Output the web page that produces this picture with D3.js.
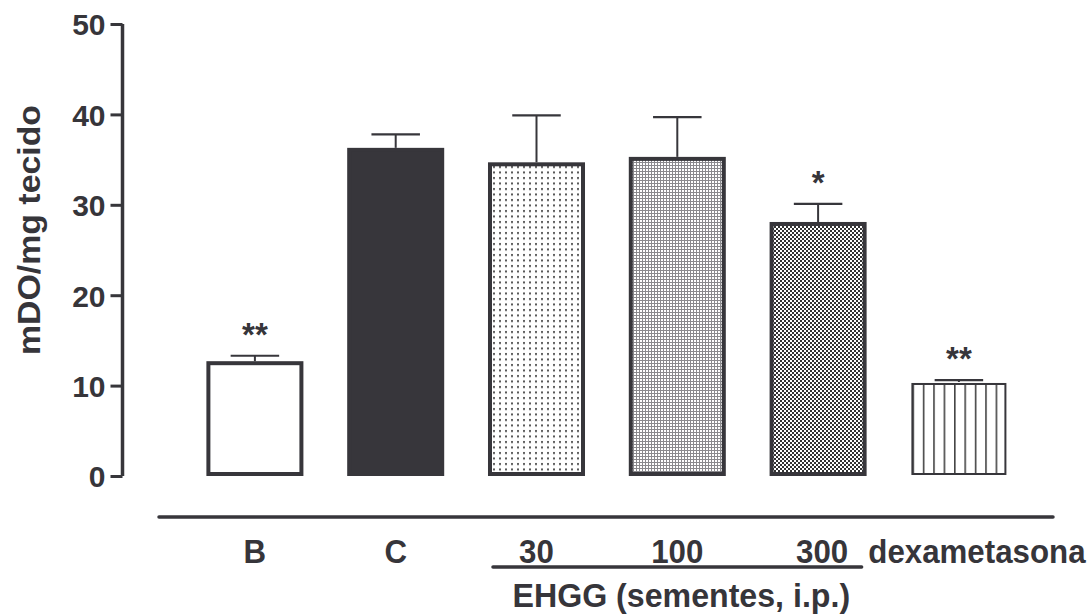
<!DOCTYPE html>
<html>
<head>
<meta charset="utf-8">
<script src="https://cdn.jsdelivr.net/npm/d3@7"></script>
<style>
  html, body { margin: 0; padding: 0; background: #fff; }
  svg { display: block; }
  text { font-family: "Liberation Sans", Arial, Helvetica, sans-serif; font-weight: bold; fill: #36353a; }
</style>
</head>
<body>
<svg id="chart" width="1090" height="616"></svg>
<script>
// ---- data ----
const categories = ["B", "C", "30", "100", "300", "dexametasona"];
const means      = [12.7, 36.3, 34.7, 35.3, 28.1, 10.4];
const errUpper   = [13.3, 37.8, 39.9, 39.7, 30.1, 10.6];
const signif     = ["**", "", "", "", "*", "**"];
const patterns   = ["none", "solid", "dots", "mesh", "checker", "vlines"];
const yTicks     = [0, 10, 20, 30, 40, 50];
const yTitle     = "mDO/mg tecido";
const groupLabel = "EHGG (sementes, i.p.)";
const groupMembers = ["30", "100", "300"];

const ink = "#37363b";
const svg = d3.select("#chart");

const y = d3.scaleLinear().domain([0, 50]).range([476, 24]);
const x = d3.scaleBand().domain(categories).range([184.5, 1029.3])
  .paddingInner(0.311).paddingOuter(0.1555);
const bw = x.bandwidth();

// ---- patterns ----
const defs = svg.append("defs");
const pDots = defs.append("pattern").attr("id", "dots").attr("patternUnits", "userSpaceOnUse")
  .attr("width", 6).attr("height", 5.5);
pDots.append("rect").attr("width", 6).attr("height", 5.5).attr("fill", "#fff");
pDots.append("rect").attr("x", 1).attr("y", 1).attr("width", 2).attr("height", 2).attr("fill", "#555");

const pMesh = defs.append("pattern").attr("id", "mesh").attr("patternUnits", "userSpaceOnUse")
  .attr("width", 3).attr("height", 3);
pMesh.append("rect").attr("width", 3).attr("height", 3).attr("fill", "#8a898d");
pMesh.append("rect").attr("x", 1).attr("y", 1).attr("width", 2).attr("height", 2).attr("fill", "#fff");

const pCheck = defs.append("pattern").attr("id", "checker").attr("patternUnits", "userSpaceOnUse")
  .attr("width", 4).attr("height", 4);
pCheck.append("rect").attr("width", 4).attr("height", 4).attr("fill", "#fff");
pCheck.append("rect").attr("x", 0).attr("y", 0).attr("width", 2).attr("height", 2).attr("fill", "#333");
pCheck.append("rect").attr("x", 2).attr("y", 2).attr("width", 2).attr("height", 2).attr("fill", "#333");

const pV = defs.append("pattern").attr("id", "vlines").attr("patternUnits", "userSpaceOnUse")
  .attr("width", 10.4).attr("height", 10).attr("x", x("dexametasona") + 2);
pV.append("rect").attr("width", 10.4).attr("height", 10).attr("fill", "#fff");
pV.append("rect").attr("x", 0).attr("y", 0).attr("width", 1.6).attr("height", 10).attr("fill", "#444");

function fillFor(p) {
  if (p === "none") return "#fff";
  if (p === "solid") return ink;
  return "url(#" + p + ")";
}

// ---- y axis ----
const yAxis = d3.axisLeft(y).tickValues(yTicks).tickSize(12).tickPadding(5);
const gy = svg.append("g").attr("transform", "translate(122.5,0)").call(yAxis);
gy.select(".domain").attr("stroke", ink).attr("stroke-width", 3.5).attr("d", "M0," + y(50) + "V" + y(0));
gy.selectAll(".tick line").attr("stroke", ink).attr("stroke-width", 3);
gy.selectAll(".tick text").attr("font-size", 30).attr("dy", "0.36em")
  .style("font-family", "'Liberation Sans', Arial, sans-serif").style("font-weight", "bold").attr("fill", ink);

svg.append("text").attr("transform", "translate(40,230) rotate(-90)")
  .attr("text-anchor", "middle").attr("font-size", 32)
  .attr("textLength", 250).attr("lengthAdjust", "spacingAndGlyphs").text(yTitle);

// ---- error bars ----
const data = categories.map((c, i) => ({ c, m: means[i], e: errUpper[i], s: signif[i], p: patterns[i] }));
const eb = svg.append("g");
data.forEach(d => {
  const cx = x(d.c) + bw / 2;
  eb.append("line").attr("x1", cx).attr("x2", cx).attr("y1", y(d.m)).attr("y2", y(d.e))
    .attr("stroke", ink).attr("stroke-width", 2);
  eb.append("line").attr("x1", cx - bw / 4).attr("x2", cx + bw / 4).attr("y1", y(d.e)).attr("y2", y(d.e))
    .attr("stroke", ink).attr("stroke-width", 2.2);
});

// ---- bars ----
svg.append("g").selectAll("rect").data(data).join("rect")
  .attr("x", d => x(d.c) + 2)
  .attr("width", bw - 4)
  .attr("y", d => y(d.m) + 2)
  .attr("height", d => y(0) - y(d.m) - 4)
  .attr("fill", d => fillFor(d.p))
  .attr("stroke", ink)
  .attr("stroke-width", d => d.p === "vlines" ? 2 : 4);

// ---- significance markers ----
svg.append("g").selectAll("text").data(data.filter(d => d.s)).join("text")
  .attr("x", d => x(d.c) + bw / 2)
  .attr("y", d => y(d.e) - 10)
  .attr("text-anchor", "middle").attr("font-size", 33)
  .text(d => d.s);

// ---- x axis line and labels ----
svg.append("line").attr("x1", 159).attr("x2", 1053).attr("y1", 517).attr("y2", 517)
  .attr("stroke", ink).attr("stroke-width", 3.5).attr("stroke-linecap", "round");

const labelShift = { "300": 4, "dexametasona": 18 };
svg.append("g").selectAll("text").data(categories).join("text")
  .attr("transform", c => "translate(" + (x(c) + bw / 2 + (labelShift[c] || 0)) + ",563) scale(0.92,1)")
  .attr("text-anchor", "middle").attr("font-size", 34)
  .text(c => c);

const gx0 = x(groupMembers[0]) + 5;
const gx1 = x(groupMembers[groupMembers.length - 1]) + bw - 5;
svg.append("line").attr("x1", gx0).attr("x2", gx1).attr("y1", 567).attr("y2", 567)
  .attr("stroke", ink).attr("stroke-width", 3.5).attr("stroke-linecap", "round");
svg.append("text").attr("transform", "translate(" + ((gx0 + gx1) / 2 + 4) + ",607) scale(0.96,1)")
  .attr("text-anchor", "middle").attr("font-size", 33.5).text(groupLabel);
</script>
</body>
</html>
